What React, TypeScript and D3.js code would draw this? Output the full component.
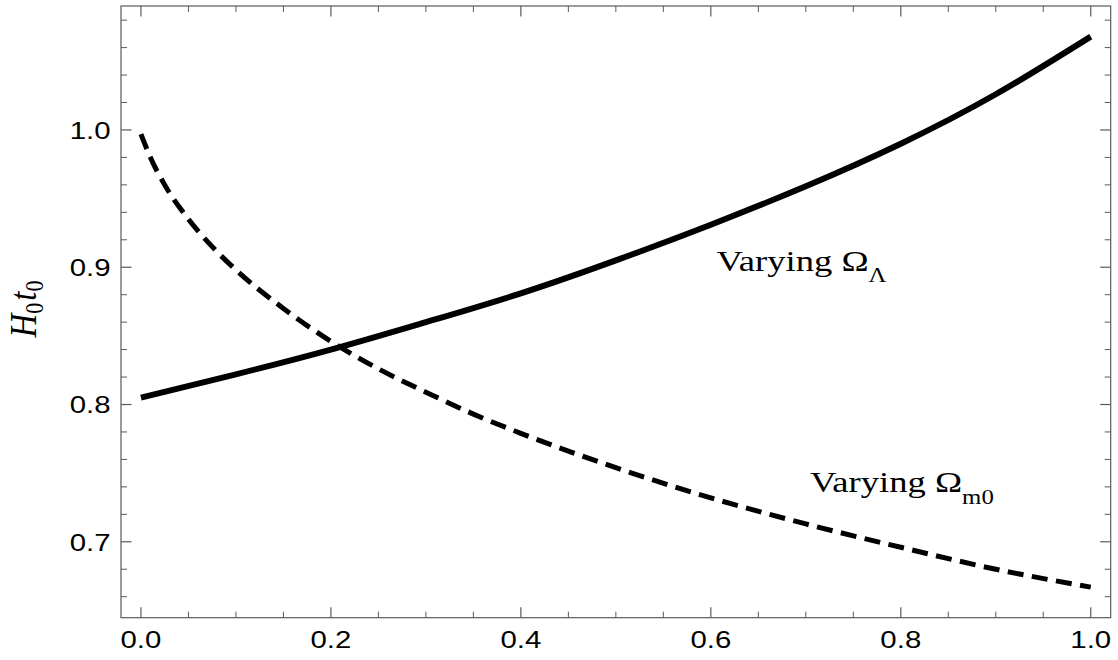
import React from "react";
import * as d3 from "d3";

// Solid curve: varying Omega_Lambda (x = Omega_Lambda)
const lambdaX = [0, 0.1, 0.2, 0.3, 0.4, 0.5, 0.6, 0.7, 0.8, 0.9, 1.0];
const lambdaY = [0.805, 0.822, 0.840, 0.860, 0.881, 0.905, 0.931, 0.959, 0.990, 1.026, 1.068];

// Dashed curve: varying Omega_m0 (x = Omega_m0)
const matterX = [0, 0.01, 0.025, 0.05, 0.075, 0.1, 0.15, 0.2, 0.25, 0.3, 0.35, 0.4, 0.5, 0.6, 0.7, 0.8, 0.9, 1.0];
const matterY = [0.997, 0.980, 0.960, 0.935, 0.915, 0.898, 0.870, 0.846, 0.826, 0.809, 0.793, 0.779, 0.754, 0.732, 0.713, 0.696, 0.680, 0.667];

const xMajor = [0, 0.2, 0.4, 0.6, 0.8, 1.0];
const xMajorLabels = ["0.0", "0.2", "0.4", "0.6", "0.8", "1.0"];
const yMajor = [0.7, 0.8, 0.9, 1.0];
const yMajorLabels = ["0.7", "0.8", "0.9", "1.0"];

const W = 1118;
const H = 660;
const left = 121, right = 1110.7, top = 6, bottom = 617.7;

export default function App() {
  const x = d3.scaleLinear().domain([-0.021, 1.021]).range([left, right]);
  const y = d3.scaleLinear().domain([0.6447, 1.0903]).range([bottom, top]);

  const smooth = d3
    .line<[number, number]>()
    .x((d) => x(d[0]))
    .y((d) => y(d[1]))
    .curve(d3.curveNatural);
  const mono = d3
    .line<[number, number]>()
    .x((d) => x(d[0]))
    .y((d) => y(d[1]))
    .curve(d3.curveMonotoneX);

  const solidPath = smooth(lambdaX.map((v, i) => [v, lambdaY[i]] as [number, number])) || "";
  const dashedPath = mono(matterX.map((v, i) => [v, matterY[i]] as [number, number])) || "";

  const xMinor = d3.range(0, 1.0001, 0.05).filter((v) => !xMajor.some((m) => Math.abs(m - v) < 1e-6));
  const yMinor = d3.range(0.66, 1.0801, 0.02).filter((v) => !yMajor.some((m) => Math.abs(m - v) < 1e-6));

  const frameColor = "#5a5a5a";
  const majLen = 10.5;
  const minLen = 6;
  const sx = 1.2;
  const serif = "'Liberation Serif', 'Times New Roman', serif";
  const sans = "'Liberation Sans', Arial, Helvetica, sans-serif";

  return (
    <svg width={W} height={H} style={{ position: "absolute", left: 0, top: 0, background: "#fff" }}>
      <defs>
        <clipPath id="plotclip">
          <rect x={left} y={top} width={right - left} height={bottom - top} />
        </clipPath>
      </defs>
      <rect x={0} y={0} width={W} height={H} fill="#fff" />

      {/* curves */}
      <g clipPath="url(#plotclip)">
        <path d={solidPath} fill="none" stroke="#000" strokeWidth={6} />
        <path d={dashedPath} fill="none" stroke="#000" strokeWidth={5} strokeDasharray="16,8.5" />
      </g>

      {/* frame */}
      <rect x={left} y={top} width={right - left} height={bottom - top} fill="none" stroke={frameColor} strokeWidth={1.2} />

      {/* x ticks bottom & top */}
      {xMajor.map((v) => (
        <g key={"xM" + v}>
          <line x1={x(v)} x2={x(v)} y1={bottom} y2={bottom - majLen} stroke={frameColor} strokeWidth={1.2} />
          <line x1={x(v)} x2={x(v)} y1={top} y2={top + majLen} stroke={frameColor} strokeWidth={1.2} />
        </g>
      ))}
      {xMinor.map((v) => (
        <g key={"xm" + v}>
          <line x1={x(v)} x2={x(v)} y1={bottom} y2={bottom - minLen} stroke={frameColor} strokeWidth={1} />
          <line x1={x(v)} x2={x(v)} y1={top} y2={top + minLen} stroke={frameColor} strokeWidth={1} />
        </g>
      ))}

      {/* y ticks left & right */}
      {yMajor.map((v) => (
        <g key={"yM" + v}>
          <line x1={left} x2={left + majLen} y1={y(v)} y2={y(v)} stroke={frameColor} strokeWidth={1.2} />
          <line x1={right} x2={right - majLen} y1={y(v)} y2={y(v)} stroke={frameColor} strokeWidth={1.2} />
        </g>
      ))}
      {yMinor.map((v) => (
        <g key={"ym" + v}>
          <line x1={left} x2={left + minLen} y1={y(v)} y2={y(v)} stroke={frameColor} strokeWidth={1} />
          <line x1={right} x2={right - minLen} y1={y(v)} y2={y(v)} stroke={frameColor} strokeWidth={1} />
        </g>
      ))}

      {/* x tick labels */}
      {xMajor.map((v, i) => (
        <text
          key={"xl" + v}
          transform={`translate(${x(v)},648.3) scale(${sx},1)`}
          textAnchor="middle"
          fontFamily={sans}
          fontSize={24.5}
          fill="#000"
        >
          {xMajorLabels[i]}
        </text>
      ))}

      {/* y tick labels */}
      {yMajor.map((v, i) => (
        <text
          key={"yl" + v}
          transform={`translate(110.5,${y(v) + 8.8}) scale(${sx},1)`}
          textAnchor="end"
          fontFamily={sans}
          fontSize={24.5}
          fill="#000"
        >
          {yMajorLabels[i]}
        </text>
      ))}

      {/* y axis label */}
      <text
        transform={`translate(36,309) scale(1.15,1) rotate(-90)`}
        textAnchor="middle"
        fontFamily={serif}
        fontSize={33}
        fill="#000"
      >
        <tspan fontStyle="italic">H</tspan>
        <tspan fontSize={22} dy={6}>0</tspan>
        <tspan fontStyle="italic" dy={-6} dx={2}>t</tspan>
        <tspan fontSize={22} dy={6}>0</tspan>
      </text>

      {/* curve labels */}
      <text transform={`translate(716.5,271) scale(1.24,1)`} fontFamily={serif} fontSize={29.5} fill="#000">
        Varying Ω<tspan fontSize={20} dy={10.5}>Λ</tspan>
      </text>
      <text transform={`translate(810,492) scale(1.24,1)`} fontFamily={serif} fontSize={29.5} fill="#000">
        Varying Ω<tspan fontSize={20} dy={12}>m0</tspan>
      </text>
    </svg>
  );
}
